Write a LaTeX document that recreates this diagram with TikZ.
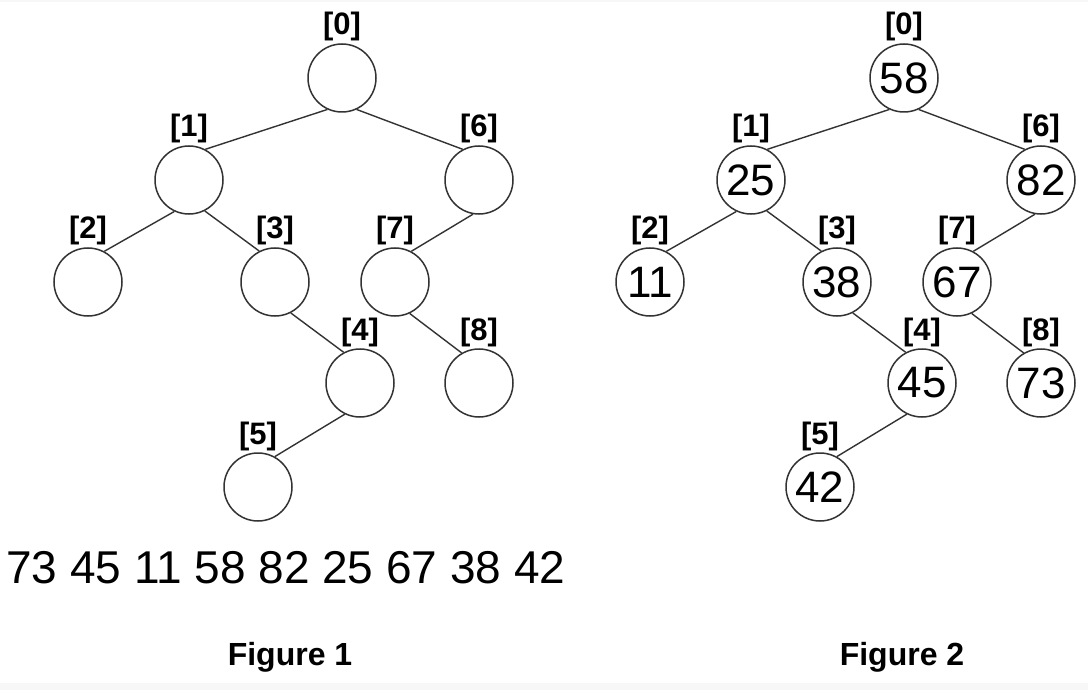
\documentclass[tikz,border=0pt]{standalone}
\usepackage{fontspec}
\setmainfont{Liberation Sans}
\begin{document}
\begin{tikzpicture}[x=1pt,y=-1pt,
  treenode/.style={circle,draw=black!80,line width=1.5pt,minimum size=68pt,inner sep=0pt,font=\fontsize{44}{44}\selectfont},
  idxlabel/.style={anchor=base,font=\bfseries\fontsize{31}{31}\selectfont,inner sep=0pt},
  link/.style={draw=black!80,line width=1.4pt},
  plain/.style={inner sep=0pt,font=\fontsize{46}{46}\selectfont},
  caption/.style={anchor=base,inner sep=0pt,font=\bfseries\fontsize{32}{32}\selectfont}]
\fill[white] (0,0) rectangle (1088,690);
\useasboundingbox (0,0) rectangle (1088,690);
\fill[black!3] (0,683) rectangle (1088,690);
\fill[black!3] (0,0) rectangle (1088,2);
% Figure 1 (empty circles)
\foreach \i/\x/\y in {0/342/78, 1/189/180, 6/479/180, 2/88/282, 3/275/282, 7/395/282, 4/360/383, 8/479/383, 5/258/487} {
  \node[treenode] (f1n\i) at (\x,\y) {};
  \node[idxlabel] (f1l\i) at (\x,\y-43) {[\i]};
}
% Figure 2 (filled circles)
\foreach \i/\x/\y/\v in {0/342/78/58, 1/189/180/25, 6/479/180/82, 2/88/282/11, 3/275/282/38, 7/395/282/67, 4/360/383/45, 8/479/383/73, 5/258/487/42} {
  \node[treenode] (f2n\i) at (\x+562,\y) {\v};
  \node[idxlabel] (f2l\i) at (\x+562,\y-43) {[\i]};
}
% Edges
\foreach \f in {1,2} {
  \foreach \p/\c/\a/\b in {0/1/-115/62, 0/6/-65/118, 1/2/-115/62, 1/3/-63/117, 6/7/-100/62, 3/4/-63/118, 7/8/-65/120, 4/5/-116/61} {
    \draw[link] (f\f n\p.\a) -- (f\f n\c.\b);
  }
}
\node[plain,anchor=base west] (row) at (6,583) {73 45 11 58 82 25 67 38 42};
\node[caption] (cap1) at (290,665) {Figure 1};
\node[caption] (cap2) at (902,665) {Figure 2};
\end{tikzpicture}
\end{document}
